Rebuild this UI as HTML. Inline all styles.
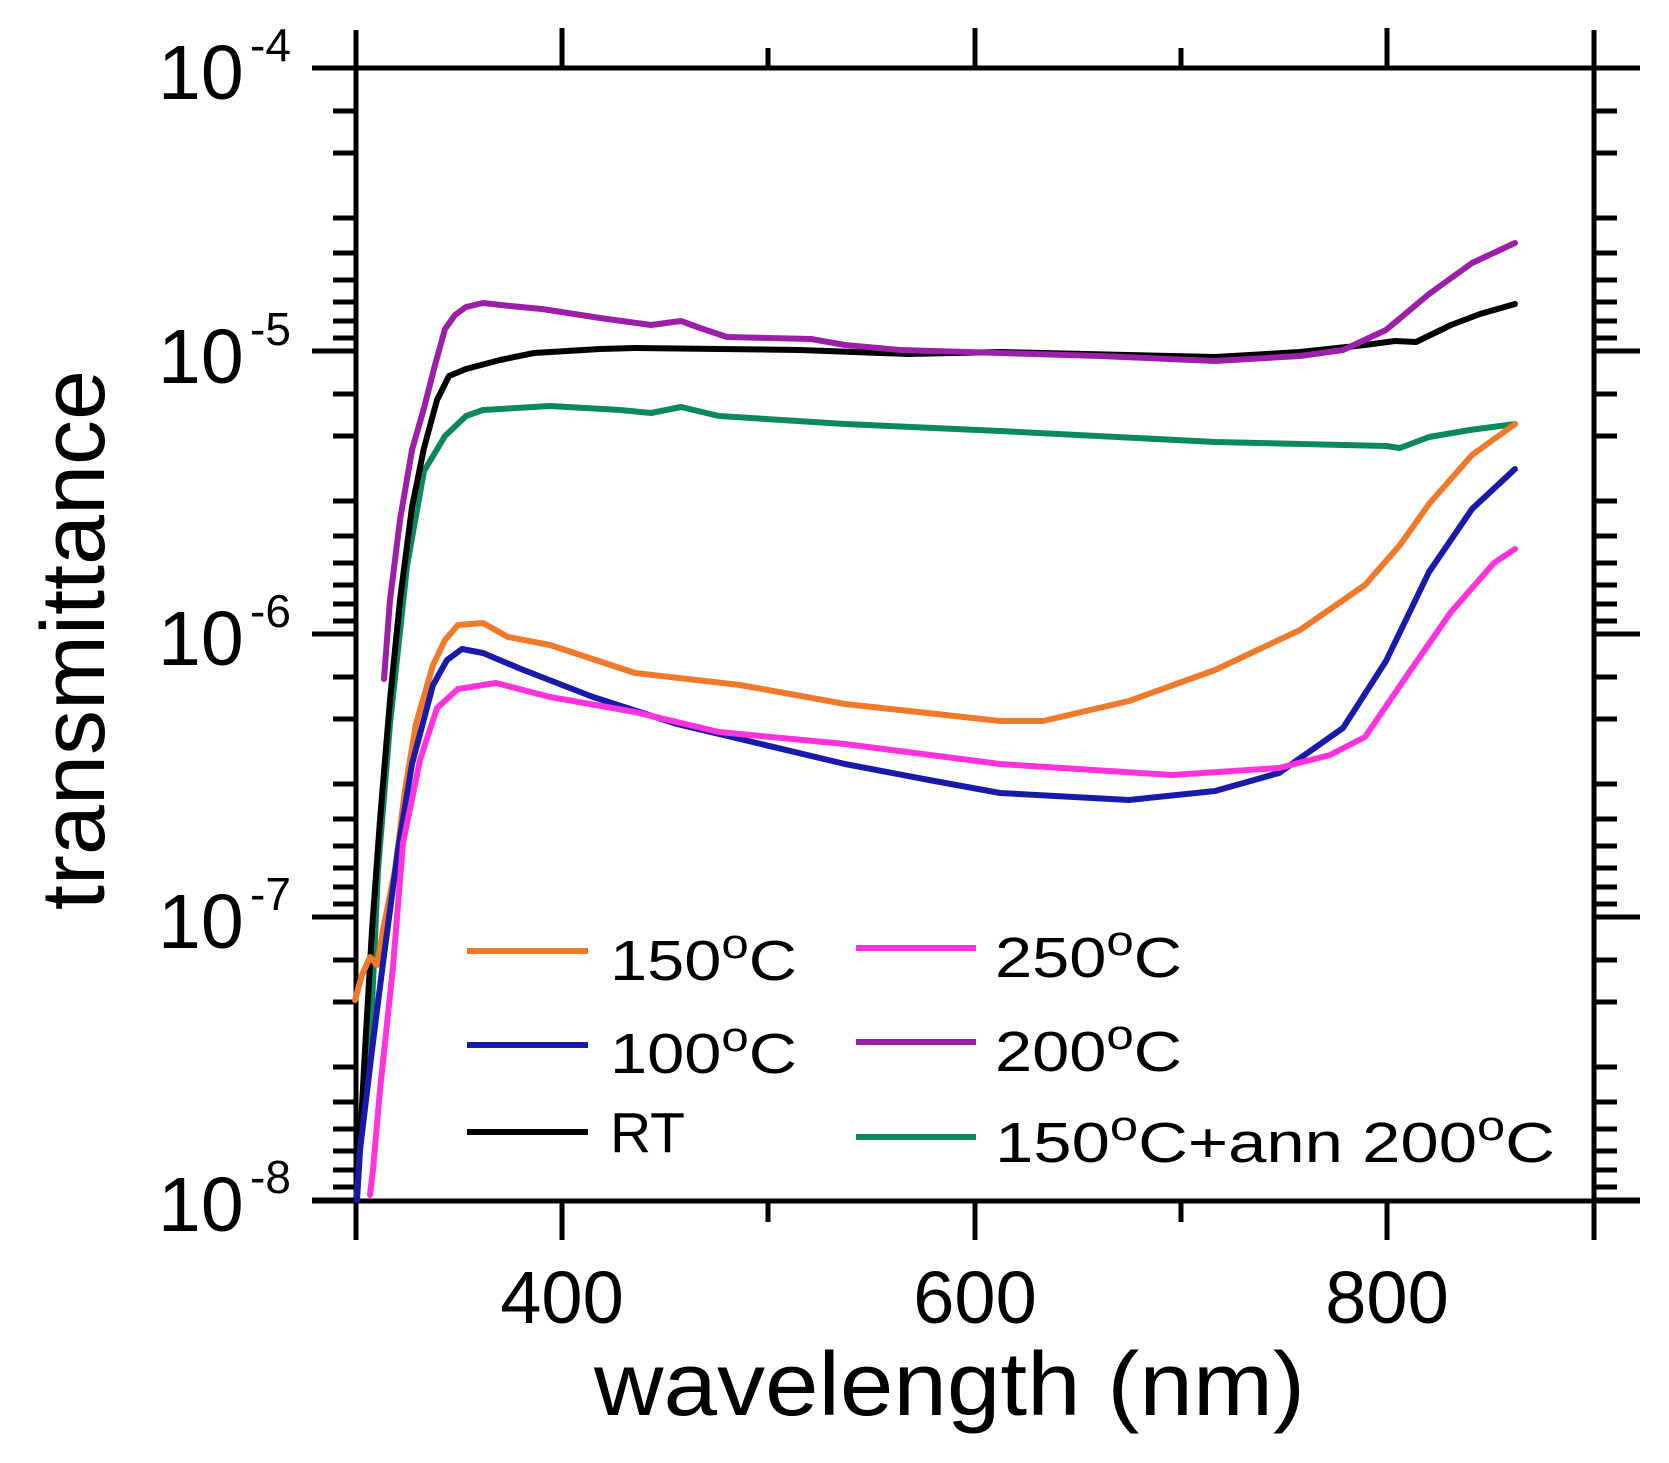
<!DOCTYPE html>
<html><head><meta charset="utf-8"><style>
html,body{margin:0;padding:0;background:#fff;}
svg{display:block;}
text{font-family:"Liberation Sans",Arial,sans-serif;fill:#000;}
</style></head><body>
<svg width="1669" height="1463" viewBox="0 0 1669 1463" xmlns="http://www.w3.org/2000/svg">
<rect width="1669" height="1463" fill="#fff"/>
<g stroke="#000" stroke-width="5" fill="none" stroke-linecap="butt">
<line x1="312" y1="68" x2="1640" y2="68"/>
<line x1="312" y1="1201" x2="1640" y2="1201"/>
<line x1="356" y1="30" x2="356" y2="1240"/>
<line x1="1594" y1="30" x2="1594" y2="1240"/>
<line x1="562" y1="68" x2="562" y2="28"/><line x1="975" y1="68" x2="975" y2="28"/><line x1="1387" y1="68" x2="1387" y2="28"/>
<line x1="768" y1="68" x2="768" y2="48"/><line x1="1181" y1="68" x2="1181" y2="48"/>
<line x1="562" y1="1201" x2="562" y2="1240"/><line x1="975" y1="1201" x2="975" y2="1240"/><line x1="1387" y1="1201" x2="1387" y2="1240"/>
<line x1="768" y1="1201" x2="768" y2="1222"/><line x1="1181" y1="1201" x2="1181" y2="1222"/>
</g>
<g stroke="#000" stroke-width="5">
<line x1="312" y1="68" x2="356" y2="68"/><line x1="312" y1="351" x2="356" y2="351"/><line x1="312" y1="634" x2="356" y2="634"/><line x1="312" y1="917" x2="356" y2="917"/><line x1="312" y1="1200" x2="356" y2="1200"/>
<line x1="1594" y1="68" x2="1640" y2="68"/><line x1="1594" y1="351" x2="1640" y2="351"/><line x1="1594" y1="634" x2="1640" y2="634"/><line x1="1594" y1="917" x2="1640" y2="917"/><line x1="1594" y1="1200" x2="1640" y2="1200"/>
</g>
<g stroke="#000" stroke-width="5">
<path d="
M333 153H356M333 218H356M333 253H356M333 280H356M333 302H356M333 321H356M333 338H356M333 111H356
M333 436H356M333 501H356M333 536H356M333 563H356M333 585H356M333 604H356M333 621H356M333 394H356
M333 719H356M333 784H356M333 819H356M333 846H356M333 868H356M333 887H356M333 904H356M333 677H356
M333 1002H356M333 1067H356M333 1102H356M333 1129H356M333 1151H356M333 1170H356M333 1187H356M333 960H356
M1594 153H1617M1594 218H1617M1594 253H1617M1594 280H1617M1594 302H1617M1594 321H1617M1594 338H1617M1594 111H1617
M1594 436H1617M1594 501H1617M1594 536H1617M1594 563H1617M1594 585H1617M1594 604H1617M1594 621H1617M1594 394H1617
M1594 719H1617M1594 784H1617M1594 819H1617M1594 846H1617M1594 868H1617M1594 887H1617M1594 904H1617M1594 677H1617
M1594 1002H1617M1594 1067H1617M1594 1102H1617M1594 1129H1617M1594 1151H1617M1594 1170H1617M1594 1187H1617M1594 960H1617"/>
</g>
<g font-size="77">
<text x="158" y="99">10</text><text x="158" y="383">10</text><text x="158" y="665">10</text><text x="158" y="948">10</text><text x="158" y="1231">10</text>
</g>
<g font-size="46">
<text x="250" y="61">-4</text><text x="250" y="345">-5</text><text x="250" y="627">-6</text><text x="250" y="910">-7</text><text x="250" y="1193">-8</text>
</g>
<g font-size="74" text-anchor="middle">
<text x="562" y="1323">400</text><text x="975" y="1323">600</text><text x="1387" y="1323">800</text>
</g>
<text x="594" y="1415" font-size="90" textLength="711" lengthAdjust="spacingAndGlyphs">wavelength (nm)</text>
<text transform="translate(104,640) rotate(-90)" font-size="90" text-anchor="middle">transmittance</text>
<g fill="none" stroke-width="6" stroke-linejoin="round" stroke-linecap="round">
<polyline stroke="#0a8a5a" points="357,1195 360,1150 370,1050 378,870 390,724 407,566 424,471 445,436 466,416 483,410 550,406 620,410 651,413 681,407 719,416 845,424 1000,431 1215,442 1386,446 1400,448 1429,437 1470,430 1515,424"/>
<polyline stroke="#000" points="358,1180 365,1050 372,930 380,820 390,700 400,600 412,507 424,448 437,400 449,376 466,369 500,360 534,353 600,349 635,348 800,350 908,354 1000,352 1215,357 1300,352 1365,345 1395,341 1416,342 1451,325 1480,314 1515,304"/>
<polyline stroke="#9b1fa8" points="384,679 390,600 400,520 412,450 424,408 435,365 445,329 455,315 466,307 483,303 510,306 542,309 600,318 651,325 681,321 700,328 727,337 811,339 845,345 900,350 1000,353 1100,356 1215,361 1300,356 1343,350 1386,330 1429,294 1472,263 1515,243"/>
<polyline stroke="#f07a2a" points="355,1000 362,975 370,957 377,965 383,930 395,870 405,790 416,724 433,665 445,640 458,625 483,623 508,637 550,645 635,673 740,685 845,704 1000,721 1043,721 1129,701 1215,670 1300,630 1365,585 1400,545 1429,504 1472,455 1515,424"/>
<polyline stroke="#1a1aaa" points="357,1200 360,1150 372,1050 383,963 398,850 412,764 433,685 447,660 462,649 483,653 521,669 593,697 677,724 761,744 845,764 929,780 1000,793 1129,800 1215,791 1279,773 1343,728 1386,661 1429,572 1472,509 1515,469"/>
<polyline stroke="#ff33dd" points="370,1195 373,1170 380,1090 393,967 403,843 420,760 437,708 458,689 496,683 550,697 635,712 719,732 845,744 1000,764 1172,775 1279,768 1330,755 1365,737 1408,674 1451,612 1494,563 1515,549"/>
</g>
<g stroke-width="6">
<line x1="467" y1="951" x2="588" y2="951" stroke="#f07a2a"/>
<line x1="467" y1="1045" x2="588" y2="1045" stroke="#1a1aaa"/>
<line x1="467" y1="1132" x2="588" y2="1132" stroke="#000"/>
<line x1="856" y1="948" x2="976" y2="948" stroke="#ff33dd"/>
<line x1="856" y1="1042" x2="976" y2="1042" stroke="#9b1fa8"/>
<line x1="856" y1="1137" x2="976" y2="1137" stroke="#0a8a5a"/>
</g>
<g font-size="57">
<text x="610" y="980" textLength="187" lengthAdjust="spacingAndGlyphs">150<tspan font-size="42" dy="-22">o</tspan><tspan dy="22">C</tspan></text>
<text x="610" y="1073" textLength="187" lengthAdjust="spacingAndGlyphs">100<tspan font-size="42" dy="-22">o</tspan><tspan dy="22">C</tspan></text>
<text x="610" y="1152">RT</text>
<text x="995" y="977" textLength="187" lengthAdjust="spacingAndGlyphs">250<tspan font-size="42" dy="-22">o</tspan><tspan dy="22">C</tspan></text>
<text x="995" y="1071" textLength="187" lengthAdjust="spacingAndGlyphs">200<tspan font-size="42" dy="-22">o</tspan><tspan dy="22">C</tspan></text>
<text x="995" y="1162" textLength="560" lengthAdjust="spacingAndGlyphs">150<tspan font-size="42" dy="-22">o</tspan><tspan dy="22">C+ann 200</tspan><tspan font-size="42" dy="-22">o</tspan><tspan dy="22">C</tspan></text>
</g>
</svg>
</body></html>
